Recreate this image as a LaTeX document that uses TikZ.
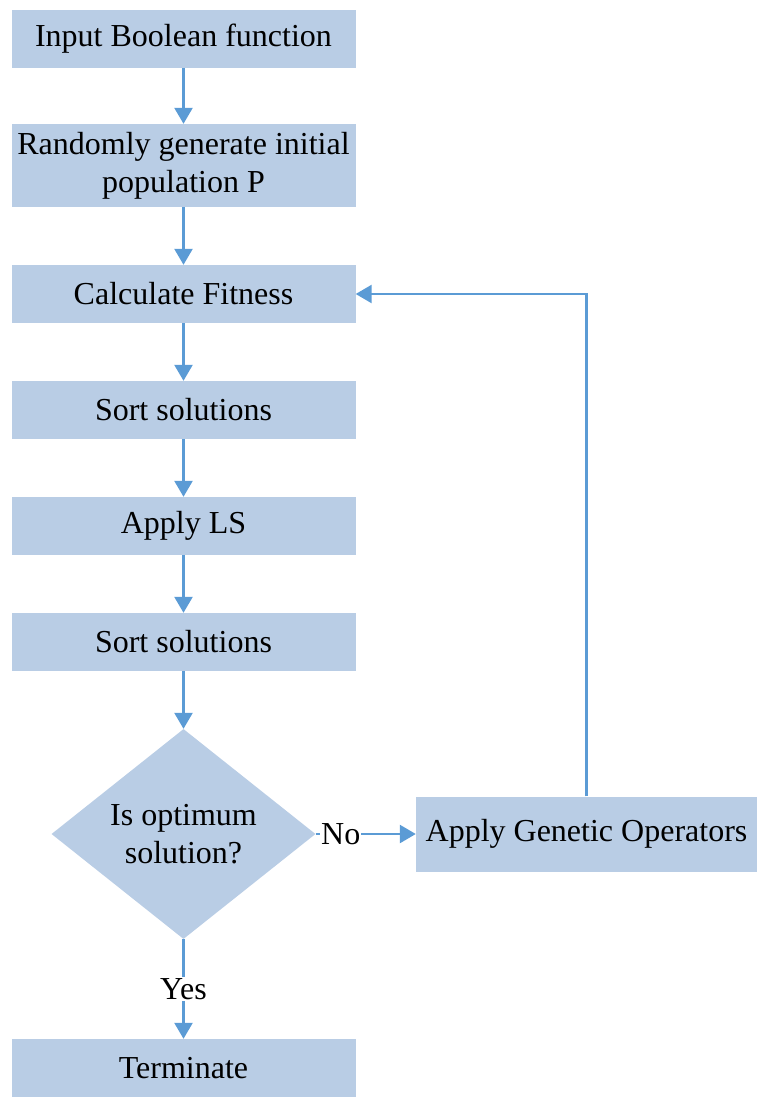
\documentclass[tikz,border=0pt]{standalone}
\usepackage{fontspec}
\setmainfont{Liberation Serif}
\usetikzlibrary{arrows.meta,shapes.geometric}
\definecolor{boxblue}{RGB}{185,205,229}
\definecolor{linkblue}{RGB}{91,155,213}
\begin{document}
\begin{tikzpicture}[x=1pt,y=-1pt,
  every node/.style={font=\fontsize{32}{38}\selectfont},
  stepbox/.style={fill=boxblue,draw=none,minimum width=344pt,minimum height=58pt,inner sep=0pt,align=center},
  decision/.style={diamond,fill=boxblue,draw=none,aspect=1.26,inner sep=0pt,minimum width=264pt,minimum height=210pt,align=center},
  link/.style={draw=linkblue,line width=2.5pt,-{Triangle[length=16pt,width=18pt]}},
  tag/.style={fill=white,inner sep=1pt}]
\useasboundingbox (0,0) rectangle (757,1097);
\node[stepbox] (input) at (183.5,39) {Input Boolean function};
\node[stepbox,minimum height=83pt] (init) at (183.5,165.5) {Randomly generate initial\\population P};
\node[stepbox] (fit) at (183.5,294) {Calculate Fitness};
\node[stepbox] (sort1) at (183.5,410) {Sort solutions};
\node[stepbox] (ls) at (183.5,526) {Apply LS};
\node[stepbox] (sort2) at (183.5,642) {Sort solutions};
\node[decision] (opt) at (183.5,834) {Is optimum\\solution?};
\node[stepbox,minimum width=341pt,minimum height=75pt] (gen) at (586.5,834) {Apply Genetic Operators};
\node[stepbox] (term) at (183.5,1068) {Terminate};

\draw[link] (input) -- (init);
\draw[link] (init) -- (fit);
\draw[link] (fit) -- (sort1);
\draw[link] (sort1) -- (ls);
\draw[link] (ls) -- (sort2);
\draw[link] (sort2) -- (opt);
\draw[link] (opt.east) -- node[tag,pos=0.25] {No} (gen.west);
\draw[link] (opt.south) -- node[tag,pos=0.5] {Yes} (term.north);
\draw[link] (gen.north) |- (fit.east);
\end{tikzpicture}
\end{document}
